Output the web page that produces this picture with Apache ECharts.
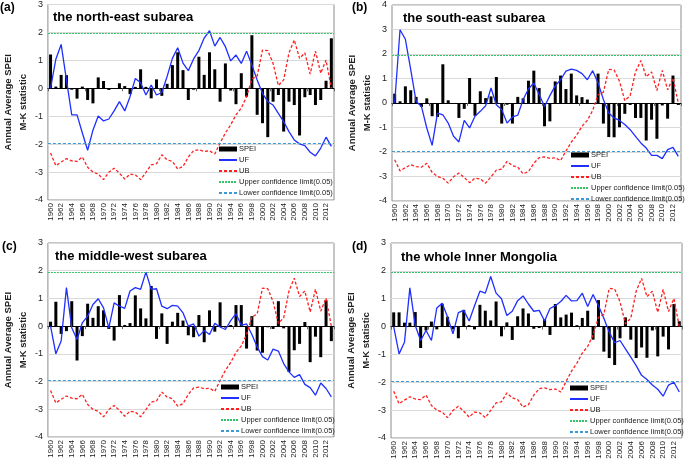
<!DOCTYPE html>
<html>
<head>
<meta charset="utf-8">
<script src="https://cdn.jsdelivr.net/npm/echarts@6/dist/echarts.min.js"></script>
<style>
  html, body { margin: 0; padding: 0; background: #fff; }
  #chart { width: 685px; height: 464px; }
</style>
</head>
<body>
<div id="chart"></div>
<script>
  const years = ['1960','1961','1962','1963','1964','1965','1966','1967','1968','1969',
    '1970','1971','1972','1973','1974','1975','1976','1977','1978','1979',
    '1980','1981','1982','1983','1984','1985','1986','1987','1988','1989',
    '1990','1991','1992','1993','1994','1995','1996','1997','1998','1999',
    '2000','2001','2002','2003','2004','2005','2006','2007','2008','2009',
    '2010','2011','2012','2013'];

  // panel tags and titles
  const panelTags = ['(a)', '(b)', '(c)', '(d)'];
  const panelTitles = ['the north-east subarea', 'the south-east subarea', 'the middle-west subarea', 'the whole Inner Mongolia'];
  const yMax = [3, 4, 3, 3];
  const yMin = -4;
  const confLimits = [1.96, -1.96];

  // SPEI bars
  const speiNE = [1.21,0.06,0.48,0.47,-0.05,-0.37,0.06,-0.42,-0.54,0.39,
    0.26,-0.06,-0.02,0.18,0.08,-0.21,0.05,0.68,0.05,-0.36,
    0.32,-0.27,0.16,0.83,1.29,0.65,-0.42,-0.05,1.13,0.48,
    1.29,0.68,-0.48,0.89,-0.08,-0.57,0.54,-0.3,1.9,-0.95,
    -1.25,-1.75,-0.48,-0.24,-1.55,-0.48,-0.6,-1.69,-0.32,-0.24,
    -0.6,-0.42,0.27,1.79];
  const speiSE = [0.38,0.07,0.68,0.52,0.25,-0.16,0.19,-0.54,-0.57,1.58,
    0.11,-0.03,-0.61,-0.24,1.02,-0.52,0.48,0.2,0.27,1.06,
    -0.84,-0.07,-0.84,0.25,0.19,0.91,1.32,0.61,-0.95,-0.75,
    0.88,1.12,0.57,1.2,0.31,0.24,0.14,-0.03,1.2,-0.84,
    -1.39,-1.4,-0.99,-0.44,-0.08,-0.61,-0.61,-1.53,-0.68,-1.46,
    -0.1,-0.64,1.12,-0.08];
  const speiMW = [0.16,0.88,-0.28,-0.18,0.9,-1.24,-0.36,0.81,0.3,0.72,
    0.57,-0.1,-0.52,1.12,0.04,0.11,1.11,0.64,0.28,1.45,
    -0.46,0.46,-0.64,0.16,0.48,0.2,-0.33,-0.4,0.4,-0.58,
    0.57,-0.2,0.86,-0.05,0.04,0.76,0.76,-0.81,0.36,-0.88,
    -0.96,-0.04,-0.1,0.9,-0.08,-1.65,-0.87,-0.64,0.15,-1.3,
    -0.38,-1.12,0.93,-0.54];
  const speiIM = [0.51,0.51,0.14,0.14,0.52,-0.77,-0.14,0.18,-0.1,0.82,
    0.35,-0.1,-0.42,0.6,0.05,-0.1,0.78,0.57,0.22,0.9,
    -0.35,0.15,-0.48,0.37,0.65,0.47,-0.08,-0.05,0.27,-0.3,
    0.81,0.33,0.43,0.5,0.05,0.31,0.57,-0.47,0.95,-0.9,
    -1.13,-1.38,-0.42,0.33,-0.47,-1.13,-0.75,-1.12,-0.14,-1.07,
    -0.36,-0.82,0.81,0.19];

  // UF statistic
  const ufNE = [0,1.04,1.57,0.3,-0.95,-0.95,-1.6,-2.22,-1.5,-0.99,
    -1.17,-1.1,-0.81,-0.48,-0.81,-0.3,0.35,0.2,-0.24,0.12,
    -0.24,-0.15,0.42,1.07,1.45,0.9,0.63,1.05,1.35,1.8,
    2.06,1.51,1.82,1.49,0.98,1.19,0.89,1.33,0.83,0.3,
    -0.18,-0.48,-0.6,-0.9,-1.19,-1.55,-1.85,-1.99,-2.05,-2.29,
    -2.42,-2.14,-1.75,-2.08];
  const ufSE = [0,2.99,2.6,1.36,0.07,-0.14,-1.02,-1.73,-0.41,-0.48,
    -0.82,-1.36,-1.59,-0.71,-1.02,-0.54,-0.34,-0.11,0.61,-0.07,
    -0.27,-0.82,-0.57,-0.5,0.14,0.57,0.82,0.35,-0.14,0.3,
    0.7,0.95,1.3,1.38,1.33,1.2,0.95,1.32,0.82,0.14,
    -0.41,-0.61,-0.71,-0.88,-1.09,-1.36,-1.63,-1.84,-2.14,-2.14,
    -2.27,-1.9,-1.81,-2.18];
  const ufMW = [0,-1.0,-0.54,1.39,-0.06,-0.48,0.12,0.36,0.78,0.99,
    0.66,-0.06,0.84,0.72,0.64,1.27,1.39,1.33,1.95,1.33,
    1.35,0.72,0.63,0.75,0.72,0.48,0.0,0.08,-0.36,-0.16,
    -0.3,0.1,-0.03,-0.12,0.2,0.45,0.03,0.08,-0.3,-0.75,
    -1.1,-1.22,-0.83,-0.9,-1.35,-1.65,-1.85,-1.75,-2.1,-2.22,
    -2.49,-2.05,-2.25,-2.55];
  const ufIM = [0,-0.98,-0.56,1.39,0.04,-0.5,-0.14,-0.5,0.67,0.84,
    0.34,-0.26,0.5,0.58,0.2,0.75,1.27,1.2,1.8,1.2,
    1.0,0.4,0.55,0.93,1.1,0.81,0.55,0.58,0.2,0.65,
    0.75,0.9,1.12,0.92,0.93,1.2,0.72,1.15,0.75,0.3,
    -0.2,-0.58,-0.5,-0.8,-1.1,-1.4,-1.75,-1.9,-2.1,-2.25,
    -2.5,-2.1,-2.0,-2.35];

  // UB statistic (same curve in every panel of the figure)
  const ubAll = [-2.32,-2.77,-2.64,-2.52,-2.6,-2.62,-2.46,-2.83,-3.0,-3.07,
    -3.27,-3.01,-2.86,-3.04,-3.25,-3.07,-3.1,-3.27,-3.01,-2.74,
    -2.7,-2.38,-2.56,-2.62,-2.89,-2.8,-2.46,-2.23,-2.2,-2.26,
    -2.24,-2.35,-1.96,-1.6,-1.31,-0.95,-0.71,-0.3,0.33,0.44,
    1.37,1.35,0.89,0.1,0.3,1.27,1.73,1.07,1.27,0.51,
    1.33,0.54,1.01,0];

  const speiList = [speiNE, speiSE, speiMW, speiIM];
  const ufList = [ufNE, ufSE, ufMW, ufIM];
  const ubList = [ubAll, ubAll, ubAll, ubAll];

  // layout of the four panels
  const gridPos = [
    { left: 43, top: 4, width: 291, height: 196 },
    { left: 392, top: 5, width: 289, height: 196 },
    { left: 43, top: 243, width: 291, height: 194 },
    { left: 391, top: 243, width: 291, height: 195 }
  ];
  const tagPos = [[0, 2], [352, 2], [2, 241], [352, 241]];
  const titlePos = [[53, 11], [403, 12], [55, 250], [401, 251]];
  const legendPos = [[218, 144], [570, 150], [220, 382], [569, 383]];

  const UPPER = 'Upper confidence limit(0.05)';
  const LOWER = 'Lower confidence limit(0.05)';
  const GREEN = '#33c46a';
  const LBLUE = '#3d9ad6';

  const grids = [], xAxes = [], yAxes = [], series = [], titles = [], legends = [];

  for (let p = 0; p < 4; p++) {
    grids.push(Object.assign({ show: true, borderColor: '#8c8c8c', borderWidth: 1, containLabel: false }, gridPos[p]));

    // bottom axis: year labels only
    xAxes.push({
      type: 'category', gridIndex: p, data: years, position: 'bottom',
      axisLine: { show: false, onZero: false },
      axisTick: { show: false },
      axisLabel: { rotate: 90, interval: 1, fontSize: 8, margin: 3, color: '#222', fontFamily: 'Liberation Sans' }
    });
    // zero line with tick marks
    xAxes.push({
      type: 'category', gridIndex: p, data: years, position: 'top',
      axisLine: { show: true, onZero: true, lineStyle: { color: '#000', width: 1 } },
      axisTick: { show: true, inside: true, length: 3, lineStyle: { color: '#666' } },
      axisLabel: { show: false }
    });

    yAxes.push({
      type: 'value', gridIndex: p, min: yMin, max: yMax[p], interval: 1,
      axisLine: { show: false }, axisTick: { show: false },
      axisLabel: { fontSize: 9, color: '#222', margin: 5, fontFamily: 'Liberation Sans' },
      splitLine: { lineStyle: { color: '#d9d9d9' } },
      name: 'Annual Average SPEI\nM-K statistic',
      nameLocation: 'middle', nameRotate: 90, nameGap: 12,
      nameTextStyle: { fontWeight: 'bold', fontSize: 9.5, lineHeight: 15, color: '#222', fontFamily: 'Liberation Sans' }
    });

    series.push({
      name: 'SPEI', type: 'bar', xAxisIndex: 2 * p, yAxisIndex: p,
      data: speiList[p], barWidth: 3, itemStyle: { color: '#000' }
    });
    series.push({
      name: 'UF', type: 'line', xAxisIndex: 2 * p, yAxisIndex: p,
      data: ufList[p], symbol: 'none',
      lineStyle: { color: '#1f2fff', width: 1.3 }, itemStyle: { color: '#1f2fff' }
    });
    series.push({
      name: 'UB', type: 'line', xAxisIndex: 2 * p, yAxisIndex: p,
      data: ubList[p], symbol: 'none',
      lineStyle: { color: '#ff1f1f', width: 1.3, type: [3, 2] }, itemStyle: { color: '#ff1f1f' }
    });
    series.push({
      name: UPPER, type: 'line', xAxisIndex: 2 * p, yAxisIndex: p, data: [], symbol: 'none',
      lineStyle: { color: GREEN, width: 1.2, type: [2, 1] }, itemStyle: { color: GREEN },
      markLine: {
        silent: true, symbol: 'none', animation: false, label: { show: false },
        lineStyle: { color: GREEN, width: 1.2, type: [2, 1] },
        data: [{ yAxis: confLimits[0] }]
      }
    });
    series.push({
      name: LOWER, type: 'line', xAxisIndex: 2 * p, yAxisIndex: p, data: [], symbol: 'none',
      lineStyle: { color: LBLUE, width: 1.2, type: [3, 2] }, itemStyle: { color: LBLUE },
      markLine: {
        silent: true, symbol: 'none', animation: false, label: { show: false },
        lineStyle: { color: LBLUE, width: 1.2, type: [3, 2] },
        data: [{ yAxis: confLimits[1] }]
      }
    });

    titles.push({
      text: panelTags[p], left: tagPos[p][0], top: tagPos[p][1], padding: 0,
      textStyle: { fontSize: 12, fontWeight: 'bold', color: '#000', fontFamily: 'Liberation Sans' }
    });
    titles.push({
      text: panelTitles[p], left: titlePos[p][0], top: titlePos[p][1], padding: 0,
      textStyle: { fontSize: 13, fontWeight: 'bold', color: '#000', fontFamily: 'Liberation Sans' }
    });

    // line items: hide the marker ECharts puts in the middle of the legend line
    const noMark = { opacity: 0 };
    legends.push({
      orient: 'vertical', left: legendPos[p][0], top: legendPos[p][1], padding: 0,
      itemWidth: 18, itemHeight: 5, itemGap: 1, selectedMode: false,
      textStyle: { fontSize: 7.5, lineHeight: 10, color: '#222', fontFamily: 'Liberation Sans', padding: [0, 0, 0, -3] },
      data: [
        { name: 'SPEI', icon: 'rect' },
        { name: 'UF', itemStyle: noMark },
        { name: 'UB', itemStyle: noMark },
        { name: UPPER, itemStyle: noMark },
        { name: LOWER, itemStyle: noMark }
      ]
    });
  }

  const chart = echarts.init(document.getElementById('chart'), null, { renderer: 'canvas' });
  chart.setOption({
    animation: false,
    backgroundColor: '#fff',
    title: titles,
    legend: legends,
    grid: grids,
    xAxis: xAxes,
    yAxis: yAxes,
    series: series
  });
</script>
</body>
</html>
